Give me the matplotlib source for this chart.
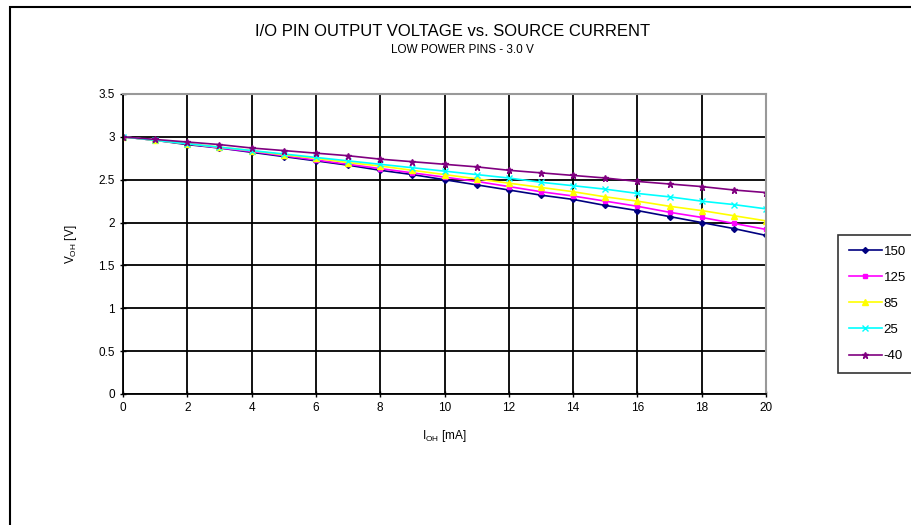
import matplotlib
matplotlib.use('Agg')
import matplotlib.pyplot as plt
from matplotlib.patches import Rectangle

plt.rcParams['font.family'] = ['Liberation Sans', 'DejaVu Sans']

# source current, mA
current = list(range(0, 21))

# output voltage per temperature (V)
v_150 = [3.00, 2.96, 2.91, 2.87, 2.82, 2.77, 2.72, 2.67, 2.61, 2.56, 2.50,
         2.44, 2.38, 2.32, 2.27, 2.20, 2.14, 2.07, 2.00, 1.93, 1.85]
v_125 = [3.00, 2.96, 2.92, 2.87, 2.83, 2.78, 2.73, 2.68, 2.63, 2.58, 2.53,
         2.48, 2.42, 2.36, 2.31, 2.25, 2.19, 2.12, 2.06, 1.99, 1.92]
v_85 = [3.00, 2.96, 2.92, 2.88, 2.84, 2.79, 2.75, 2.70, 2.66, 2.61, 2.56,
        2.51, 2.46, 2.41, 2.36, 2.30, 2.25, 2.19, 2.14, 2.08, 2.02]
v_25 = [3.00, 2.96, 2.92, 2.88, 2.84, 2.80, 2.76, 2.72, 2.68, 2.64, 2.60,
        2.56, 2.52, 2.47, 2.43, 2.39, 2.34, 2.30, 2.25, 2.21, 2.16]
v_m40 = [3.00, 2.97, 2.94, 2.91, 2.87, 2.84, 2.81, 2.78, 2.74, 2.71, 2.68,
         2.65, 2.61, 2.58, 2.55, 2.52, 2.48, 2.45, 2.42, 2.38, 2.35]

labels = ['150', '125', '85', '25', '-40']
series = [v_150, v_125, v_85, v_25, v_m40]
colors = ['#000080', '#ff00ff', '#ffff00', '#00ffff', '#800080']
markers = ['D', 's', '^', 'x', '*']
msizes = [3, 3.5, 4, 4, 4.5]

fig = plt.figure(figsize=(9.11, 5.25), dpi=100)

# outer frame (only left and top visible in the cropped screenshot)
fig.patches.append(Rectangle((10 / 911, -0.1), 1.2, 1 - 7 / 525 + 0.1,
                             transform=fig.transFigure, fill=False,
                             edgecolor='black', linewidth=1.5))

ax = fig.add_axes([123 / 911, 1 - 394 / 525, 643 / 911, 300 / 525])

for y, lab, c, m, ms in zip(series, labels, colors, markers, msizes):
    ax.plot(current, y, color=c, marker=m, markersize=ms, linewidth=1.2,
            markeredgewidth=1, label=lab)

ax.set_xlim(0, 20)
ax.set_ylim(0, 3.5)
ax.set_xticks(range(0, 21, 2))
ax.set_yticks([0, 0.5, 1, 1.5, 2, 2.5, 3, 3.5])
ax.set_yticklabels(['0', '0.5', '1', '1.5', '2', '2.5', '3', '3.5'])
ax.grid(True, color='black', linewidth=1.3)
ax.set_axisbelow(True)
for s in ['top', 'right']:
    ax.spines[s].set_color('#999999')
    ax.spines[s].set_linewidth(1.5)
for s in ['left', 'bottom']:
    ax.spines[s].set_color('black')
    ax.spines[s].set_linewidth(1.3)
ax.tick_params(labelsize=8.5, length=4, width=1, direction='inout', pad=4)

ax.set_xlabel(r'I$_{\mathregular{OH}}$ [mA]', fontsize=8.5, labelpad=10)
ax.set_ylabel(r'V$_{\mathregular{OH}}$ [V]', fontsize=8.5, labelpad=14)

fig.text(453 / 911, 1 - 31 / 525, 'I/O PIN OUTPUT VOLTAGE vs. SOURCE CURRENT',
         ha='center', va='center', fontsize=12)
fig.text(462 / 911, 1 - 50 / 525, 'LOW POWER PINS - 3.0 V',
         ha='center', va='center', fontsize=8.5)

leg = fig.legend(loc='upper left', bbox_to_anchor=(838 / 911, 1 - 235 / 525),
                 fontsize=9.5, frameon=True, fancybox=False, handlelength=2.5,
                 borderpad=0.8, labelspacing=1.05, handletextpad=0.15,
                 borderaxespad=0)
leg.get_frame().set_edgecolor('black')
leg.get_frame().set_linewidth(1.2)

fig.savefig('out.png', dpi=100)
